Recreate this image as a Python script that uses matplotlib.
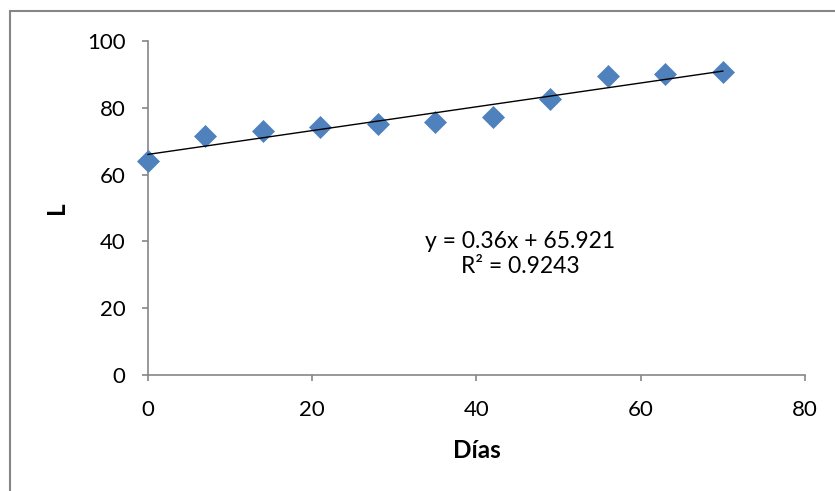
import matplotlib
matplotlib.use("Agg")
import matplotlib.pyplot as plt
import numpy as np
from matplotlib.patches import Rectangle

# ── Datos ─────────────────────────────────────────────────────────────────────
dias = [0, 7, 14, 21, 28, 35, 42, 49, 56, 63, 70]
valores_L = [64.1, 71.6, 73.1, 74.3, 75.0, 75.7, 77.2, 82.5, 89.5, 90.0, 90.7]
ecuacion = "y = 0.36x + 65.921\nR² = 0.9243"

x_ticks = [0, 20, 40, 60, 80]
y_ticks = [0, 20, 40, 60, 80, 100]

GRIS = "#868686"
AZUL = "#4F81BD"

plt.rcParams["font.family"] = ["Lato", "DejaVu Sans"]

fig = plt.figure(figsize=(8.35, 4.91), dpi=100)
ax = fig.add_axes([0.1772, 0.2363, 0.7868, 0.6802])

# borde exterior del gráfico
fig.patches.append(Rectangle((9.5 / 835, -0.1), 1.2, 1.1 - 10.5 / 491,
                             transform=fig.transFigure, fill=False,
                             edgecolor=GRIS, linewidth=1.5))

ax.plot(dias, valores_L, linestyle="none", marker="D", markersize=11.5,
        color=AZUL, markeredgecolor=AZUL, markeredgewidth=0.5, zorder=3,
        clip_on=False)

# línea de tendencia
m, b = np.polyfit(dias, valores_L, 1)
xs = np.array([min(dias), max(dias)])
ax.plot(xs, m * xs + b, color="black", linewidth=1.0, zorder=4, clip_on=False)

ax.text(45.3, 36.3, ecuacion, ha="center", va="center", fontsize=16.5,
        linespacing=1.25)

ax.set_xlim(0, 80)
ax.set_ylim(0, 100)
ax.set_xticks(x_ticks)
ax.set_yticks(y_ticks)
for s in ["top", "right"]:
    ax.spines[s].set_visible(False)
for s in ["left", "bottom"]:
    ax.spines[s].set_color(GRIS)
    ax.spines[s].set_linewidth(1.2)
ax.tick_params(axis="both", direction="out", length=4, width=1.2,
               color=GRIS, labelsize=16, labelcolor="black")
ax.tick_params(axis="y", pad=12)
ax.tick_params(axis="x", pad=14)

ax.set_xlabel("Días", fontsize=17.5, fontweight="bold", labelpad=14)
ax.set_ylabel("L", fontsize=17.5, fontweight="bold", labelpad=14)

fig.savefig("out.png", dpi=100)
